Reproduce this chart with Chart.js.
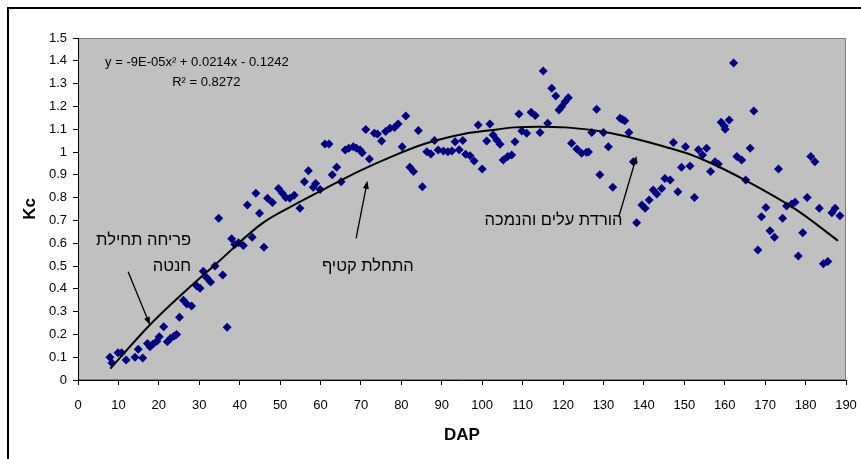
<!DOCTYPE html>
<html>
<head>
<meta charset="utf-8">
<script src="https://cdn.jsdelivr.net/npm/chart.js@4.4.1/dist/chart.umd.min.js"></script>
<style>
  html, body { margin: 0; padding: 0; background: #fff; }
</style>
</head>
<body>
<canvas id="kcChart" width="861" height="459"></canvas>
<script>
const dap = [7.9, 8.4, 9.9, 10.8, 11.9, 14.1, 14.9, 16, 17.2, 17.8, 18.5, 19.5, 20.1, 21.2, 22.1, 22.9, 23.8, 24.4, 25.1, 26.1,
  26.9, 28.1, 29.4, 30.2, 31, 31.8, 32.8, 33.9, 34.8, 35.8, 36.9, 38, 38.8, 39.7, 40.9, 41.9, 43.1, 44, 44.9, 46,
  46.9, 48.1, 49.6, 50.5, 51.4, 52.4, 53.5, 54.9, 56, 57, 58.2, 58.8, 59.9, 61.1, 62.1, 62.9, 64, 65.1, 66.1, 67,
  68.1, 68.9, 69.8, 70.3, 71.2, 72.1, 73.3, 74.1, 75.1, 76.1, 77.2, 78.3, 79.2, 80.2, 81.1, 82.1, 83, 84.2, 85.2, 86.3,
  87.3, 88.2, 89.1, 90.4, 91.5, 92.5, 93.3, 94.3, 95.2, 95.9, 97, 98, 99, 100, 101.1, 101.9, 102.7, 103.6, 104.4, 105.2,
  106.3, 107.3, 108.1, 109.1, 109.8, 111, 112.1, 113.1, 114.3, 115.1, 116.2, 117.2, 118.2, 119, 119.7, 120.5, 121.3, 122.1, 123.4, 124.6,
  125.8, 126.3, 127.1, 128.3, 129.1, 130, 131.2, 132.3, 134.1, 134.7, 135.3, 136.3, 137.4, 138.2, 139.5, 140.3, 141.3, 142.3, 143.2, 144.4,
  145.2, 146.5, 147.3, 148.4, 149.3, 150.3, 151.4, 152.5, 153.5, 154.5, 155.5, 156.5, 157.6, 158.4, 159.1, 159.9, 160.1, 161.1, 162.2, 163,
  164.2, 165.2, 166.3, 167.2, 168.2, 169.1, 170.2, 171.2, 172.3, 173.3, 174.3, 175.3, 176.6, 177.4, 178.2, 179.3, 180.4, 181.3, 182.3, 183.4,
  184.4, 185.5, 186.5, 187.3, 188.5];
const kc = [0.10, 0.075, 0.12, 0.12, 0.088, 0.10, 0.135, 0.096, 0.16, 0.146, 0.157, 0.17, 0.19, 0.234, 0.168, 0.183, 0.193, 0.20, 0.275, 0.35,
  0.333, 0.325, 0.412, 0.402, 0.477, 0.45, 0.43, 0.50, 0.709, 0.46, 0.231, 0.62, 0.594, 0.602, 0.59, 0.768, 0.626, 0.819, 0.731, 0.582,
  0.797, 0.778, 0.84, 0.82, 0.80, 0.797, 0.81, 0.753, 0.87, 0.918, 0.845, 0.862, 0.836, 1.035, 1.035, 0.90, 0.933, 0.87, 1.009, 1.016,
  1.023, 1.016, 1.009, 0.997, 1.099, 0.969, 1.082, 1.079, 1.048, 1.09, 1.104, 1.108, 1.123, 1.023, 1.158, 0.933, 0.914, 1.094, 0.848, 1.001,
  0.991, 1.05, 1.009, 1.004, 1.001, 1.004, 1.045, 1.01, 1.05, 0.99, 0.984, 0.96, 1.118, 0.925, 1.048, 1.123, 1.075, 1.053, 1.034, 0.965,
  0.98, 0.987, 1.045, 1.167, 1.092, 1.082, 1.174, 1.16, 1.085, 1.355, 1.126, 1.28, 1.246, 1.184, 1.2, 1.22, 1.238, 1.038, 1.013, 0.994,
  0.999, 1.0, 1.086, 1.187, 0.90, 1.086, 1.023, 0.845, 1.148, 1.143, 1.137, 1.086, 0.957, 0.69, 0.768, 0.753, 0.789, 0.833, 0.816, 0.84,
  0.884, 0.877, 1.042, 0.826, 0.933, 1.023, 0.939, 0.80, 1.01, 0.987, 1.016, 0.914, 0.957, 0.947, 1.13, 1.114, 1.10, 1.14, 1.39, 0.98,
  0.965, 0.877, 1.016, 1.18, 0.57, 0.716, 0.757, 0.655, 0.626, 0.925, 0.709, 0.763, 0.772, 0.78, 0.544, 0.646, 0.80, 0.98, 0.957, 0.753,
  0.51, 0.52, 0.734, 0.753, 0.72];

// Polynomial trendline
const trendDap = [8, 17.7, 27.2, 34.2, 45.4, 53.7, 63.6, 69.3, 77.6, 85.8, 95.7, 101.5, 108.1, 114, 120.5, 127.9, 132, 138.6, 145.2, 151.8, 157.6, 165, 172.4, 179, 188];
const trendKc = [0.05, 0.24, 0.40, 0.51, 0.685, 0.77, 0.862, 0.914, 0.98, 1.036, 1.08, 1.094, 1.108, 1.111, 1.108, 1.094, 1.082, 1.055, 1.023, 0.987, 0.943, 0.877, 0.804, 0.731, 0.611];

const xTicks = [0, 10, 20, 30, 40, 50, 60, 70, 80, 90, 100, 110, 120, 130, 140, 150, 160, 170, 180, 190];
const yTicks = [0, 0.1, 0.2, 0.3, 0.4, 0.5, 0.6, 0.7, 0.8, 0.9, 1, 1.1, 1.2, 1.3, 1.4, 1.5];

const equation = ['y = -9E-05x² + 0.0214x - 0.1242', 'R² = 0.8272'];

// Hebrew notes with arrows, in data units
const notes = [
  { text: ['פריחה תחילת', 'חנטה'], at: [28, 0.61], align: 'right', from: [12.4, 0.475], to: [17.8, 0.241] },
  { text: ['התחלת קטיף'], at: [71.7, 0.50], align: 'center', from: [68.8, 0.621], to: [71.6, 0.874] },
  { text: ['הורדת עלים והנמכה'], at: [134.7, 0.70], align: 'right', from: [133.8, 0.716], to: [138.2, 0.982] }
];

const FONT = 'Arial, "Liberation Sans", sans-serif';

const plotBg = {
  id: 'plotBg',
  beforeDraw(chart) {
    const { ctx, chartArea: a, width, height } = chart;
    ctx.save();
    ctx.fillStyle = '#ffffff';
    ctx.fillRect(0, 0, width, height);
    ctx.fillStyle = '#c0c0c0';
    ctx.fillRect(a.left, a.top, a.right - a.left, a.bottom - a.top);
    ctx.strokeStyle = '#808080';
    ctx.lineWidth = 1;
    ctx.strokeRect(a.left + 0.5, a.top + 0.5, a.right - a.left - 1, a.bottom - a.top - 1);
    // outer chart frame
    ctx.strokeStyle = '#000000';
    ctx.lineWidth = 2;
    ctx.beginPath();
    ctx.moveTo(8, height + 5);
    ctx.lineTo(8, 8);
    ctx.lineTo(width + 5, 8);
    ctx.stroke();
    ctx.restore();
  }
};

function arrow(ctx, x1, y1, x2, y2) {
  const ang = Math.atan2(y2 - y1, x2 - x1);
  const len = 8, half = 3;
  ctx.beginPath();
  ctx.moveTo(x1, y1);
  ctx.lineTo(x2 - Math.cos(ang) * len * 0.6, y2 - Math.sin(ang) * len * 0.6);
  ctx.stroke();
  ctx.beginPath();
  ctx.moveTo(x2, y2);
  ctx.lineTo(x2 - Math.cos(ang) * len - Math.sin(ang) * half, y2 - Math.sin(ang) * len + Math.cos(ang) * half);
  ctx.lineTo(x2 - Math.cos(ang) * len + Math.sin(ang) * half, y2 - Math.sin(ang) * len - Math.cos(ang) * half);
  ctx.closePath();
  ctx.fill();
}

const notesPlugin = {
  id: 'notes',
  afterDatasetsDraw(chart) {
    const { ctx, scales: { x, y } } = chart;
    ctx.save();
    ctx.fillStyle = '#000';
    ctx.strokeStyle = '#000';
    ctx.textBaseline = 'middle';

    // trendline equation
    ctx.font = '13px ' + FONT;
    ctx.textAlign = 'left';
    ctx.fillText(equation[0], x.getPixelForValue(6.7), y.getPixelForValue(1.395));
    ctx.fillText(equation[1], x.getPixelForValue(23.3), y.getPixelForValue(1.307));

    ctx.font = '16.5px ' + FONT;
    ctx.lineWidth = 1.3;
    notes.forEach(n => {
      ctx.textAlign = n.align;
      const tx = x.getPixelForValue(n.at[0]);
      let ty = y.getPixelForValue(n.at[1]);
      n.text.forEach(line => {
        ctx.fillText(line, tx, ty);
        ty += 26;
      });
      arrow(ctx, x.getPixelForValue(n.from[0]), y.getPixelForValue(n.from[1]),
        x.getPixelForValue(n.to[0]), y.getPixelForValue(n.to[1]));
    });
    ctx.restore();
  }
};

const tickFont = { family: FONT, size: 13 };

new Chart(document.getElementById('kcChart'), {
  type: 'scatter',
  data: {
    datasets: [
      {
        label: 'trend',
        type: 'line',
        data: trendDap.map((d, i) => ({ x: d, y: trendKc[i] })),
        borderColor: '#000000',
        borderWidth: 2,
        pointRadius: 0,
        fill: false,
        cubicInterpolationMode: 'monotone',
        order: 0
      },
      {
        label: 'Kc',
        data: dap.map((d, i) => ({ x: d, y: kc[i] })),
        pointStyle: 'rectRot',
        pointRadius: 4.5,
        backgroundColor: '#000080',
        borderWidth: 0,
        order: 1
      }
    ]
  },
  options: {
    responsive: false,
    animation: false,
    devicePixelRatio: 1,
    layout: { padding: { top: 38, right: 15, left: 0, bottom: 0 } },
    plugins: {
      legend: { display: false },
      tooltip: { enabled: false }
    },
    scales: {
      x: {
        type: 'linear',
        min: 0,
        max: 190,
        afterBuildTicks: s => { s.ticks = xTicks.map(v => ({ value: v })); },
        // fixed axis box; ignore label overhang so the plot ends at 846px
        afterFit: s => { s.height = 79; s.paddingLeft = 0; s.paddingRight = 0; },
        grid: { drawOnChartArea: false, tickLength: 5, color: '#000' },
        border: { color: '#000', width: 1 },
        ticks: { font: tickFont, color: '#000', padding: 13, maxRotation: 0, autoSkip: false },
        title: { display: true, text: 'DAP', color: '#000', font: { family: FONT, size: 17, weight: 'bold' }, padding: { top: 0, bottom: 13 } }
      },
      y: {
        type: 'linear',
        min: 0,
        max: 1.5,
        afterBuildTicks: s => { s.ticks = yTicks.map(v => ({ value: v })); },
        afterFit: s => { s.width = 78; },
        grid: { drawOnChartArea: false, tickLength: 5, color: '#000' },
        border: { color: '#000', width: 1 },
        ticks: { font: tickFont, color: '#000', padding: 6, autoSkip: false, callback: v => String(+v.toFixed(1)) },
        title: { display: true, text: 'Kc', color: '#000', font: { family: FONT, size: 17, weight: 'bold' }, padding: { top: 20, bottom: 0 } }
      }
    }
  },
  plugins: [plotBg, notesPlugin]
});
</script>
</body>
</html>
